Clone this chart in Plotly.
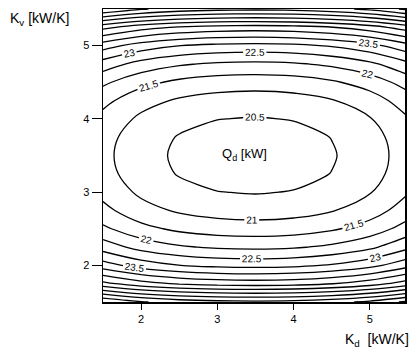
import plotly.graph_objects as go

# K_d [kW/K] grid (x) and K_v [kW/K] grid (y)
kd = [1.5, 2.0, 2.5, 3.0, 3.5, 4.0, 4.5, 5.0, 5.5]
kv = [1.5, 1.75, 2.0, 2.25, 2.5, 2.75, 3.0, 3.25, 3.5,
      3.75, 4.0, 4.25, 4.5, 4.75, 5.0, 5.25, 5.5]

# Q_d [kW] (rows = kv, columns = kd)
qd = [
    [27.50, 27.05, 26.79, 26.66, 26.62, 26.67, 26.83, 27.12, 27.62],
    [25.15, 24.70, 24.44, 24.31, 24.27, 24.32, 24.48, 24.77, 25.27],
    [23.72, 23.27, 23.01, 22.88, 22.84, 22.89, 23.05, 23.34, 23.84],
    [22.77, 22.32, 22.06, 21.93, 21.89, 21.94, 22.10, 22.39, 22.89],
    [22.10, 21.65, 21.39, 21.26, 21.22, 21.27, 21.43, 21.72, 22.22],
    [21.64, 21.19, 20.93, 20.80, 20.76, 20.81, 20.97, 21.26, 21.76],
    [21.35, 20.90, 20.64, 20.51, 20.47, 20.52, 20.68, 20.97, 21.47],
    [21.18, 20.73, 20.47, 20.34, 20.30, 20.35, 20.51, 20.80, 21.30],
    [21.13, 20.68, 20.42, 20.29, 20.25, 20.30, 20.46, 20.75, 21.25],
    [21.18, 20.73, 20.47, 20.34, 20.30, 20.35, 20.51, 20.80, 21.30],
    [21.35, 20.90, 20.64, 20.51, 20.47, 20.52, 20.68, 20.97, 21.47],
    [21.64, 21.19, 20.93, 20.80, 20.76, 20.81, 20.97, 21.26, 21.76],
    [22.10, 21.65, 21.39, 21.26, 21.22, 21.27, 21.43, 21.72, 22.22],
    [22.77, 22.32, 22.06, 21.93, 21.89, 21.94, 22.10, 22.39, 22.89],
    [23.72, 23.27, 23.01, 22.88, 22.84, 22.89, 23.05, 23.34, 23.84],
    [25.15, 24.70, 24.44, 24.31, 24.27, 24.32, 24.48, 24.77, 25.27],
    [27.50, 27.05, 26.79, 26.66, 26.62, 26.67, 26.83, 27.12, 27.62],
]

labelled_levels = dict(start=20.5, end=23.5, size=0.5)
plain_levels = dict(start=24.0, end=27.5, size=0.5)
tick_vals = [2, 3, 4, 5]
tick_text = ["2", "3", "4", "5"]

FONT = "Liberation Sans, Arial, sans-serif"

fig = go.Figure()
fig.add_trace(go.Contour(
    x=kd, y=kv, z=qd,
    autocontour=False,
    contours=dict(coloring="none", showlabels=True,
                  labelfont=dict(size=10, color="black", family=FONT),
                  **labelled_levels),
    line=dict(color="black", width=1.3, smoothing=1.0),
    showscale=False, hoverinfo="skip",
))
fig.add_trace(go.Contour(
    x=kd, y=kv, z=qd,
    autocontour=False,
    contours=dict(coloring="none", showlabels=False, **plain_levels),
    line=dict(color="black", width=1.3, smoothing=1.0),
    showscale=False, hoverinfo="skip",
))

axis_common = dict(
    showline=True, linecolor="black", linewidth=1.5, mirror=True,
    showgrid=False, zeroline=False, ticks="outside", tickcolor="black",
    tickvals=tick_vals, ticktext=tick_text,
    tickfont=dict(size=11, color="black", family=FONT),
)
fig.update_xaxes(range=[1.5, 5.46], ticklen=6, **axis_common)
fig.update_yaxes(range=[1.5, 5.5], ticklen=10, **axis_common)

fig.add_annotation(x=3.35, y=3.51, xref="x", yref="y",
                   text="Q<sub>d</sub> [kW]", showarrow=False,
                   font=dict(size=13, color="black", family=FONT))
fig.add_annotation(x=-0.314, y=0.966, xref="paper", yref="paper",
                   xanchor="left", yanchor="middle",
                   text="K<sub>v</sub> [kW/K]", showarrow=False,
                   font=dict(size=14, color="black", family=FONT))
fig.add_annotation(x=1.02, y=-0.129, xref="paper", yref="paper",
                   xanchor="right", yanchor="middle",
                   text="K<sub>d</sub>  [kW/K]", showarrow=False,
                   font=dict(size=14, color="black", family=FONT))

fig.update_layout(
    width=414, height=352,
    margin=dict(l=103, r=8, t=7, b=50),
    paper_bgcolor="white", plot_bgcolor="white",
    showlegend=False,
)

fig.write_html("out.html",
               config={"displayModeBar": False, "staticPlot": True},
               post_script="document.body.style.margin='0';"
                           "document.body.style.overflow='hidden';")
